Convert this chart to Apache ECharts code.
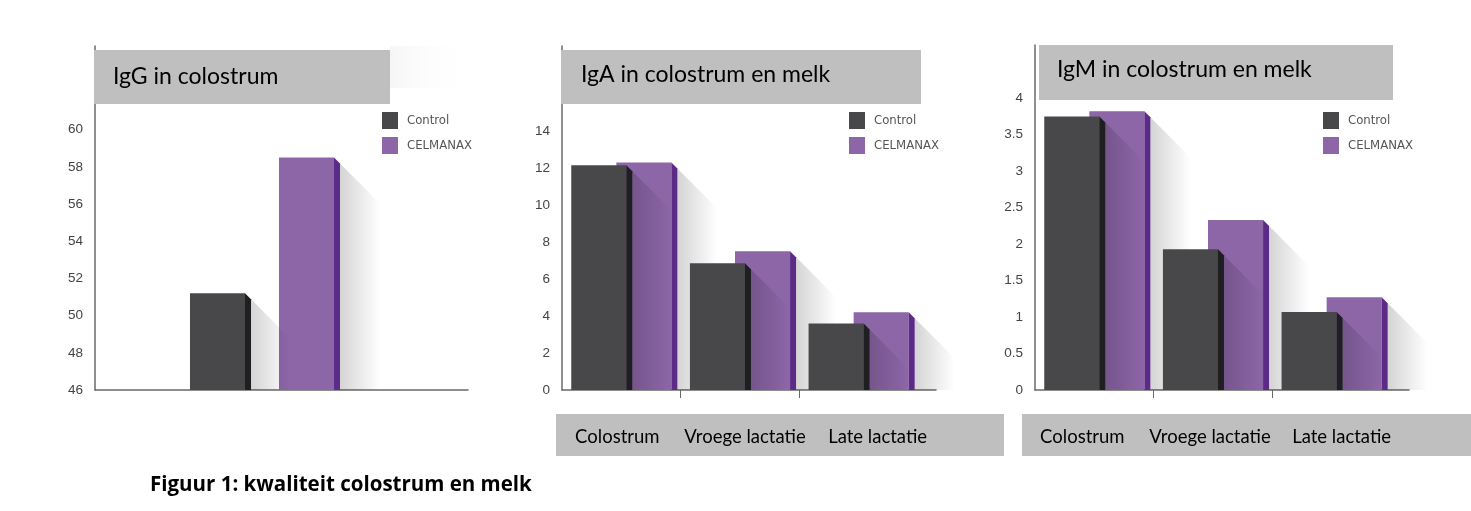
<!DOCTYPE html>
<html>
<head>
<meta charset="utf-8">
<script src="https://cdn.jsdelivr.net/npm/echarts@6/dist/echarts.min.js"></script>
<style>
html,body{margin:0;padding:0;background:#fff;}
#chart{width:1471px;height:511px;}
</style>
</head>
<body>
<div id="chart"></div>
<script>
// ---- data ----
const categories = ['Colostrum', 'Vroege lactatie', 'Late lactatie'];
const seriesNames = ['Control', 'CELMANAX'];
const igGCategories = ['Colostrum'];
const igGControl = [51.2];
const igGCelmanax = [58.5];
const igAControl = [12.15, 6.85, 3.6];
const igACelmanax = [12.3, 7.5, 4.2];
const igMControl = [3.75, 1.93, 1.07];
const igMCelmanax = [3.82, 2.33, 1.27];
const chartTitles = ['IgG in colostrum', 'IgA in colostrum en melk', 'IgM in colostrum en melk'];
const caption = 'Figuur 1: kwaliteit colostrum en melk';
const igGTickMax = 60, igATickMax = 14, igMTickMax = 4;

// ---- style ----
const COLORS = {
  Control: {front: '#48484a', side: '#1f1f21'},
  CELMANAX: {front: '#8d66a8', side: '#5c2b87'}
};
const SIDE = 6, SHADOW = 40;

function makeRender(barFrac, offFrac, colors) {
  return function (params, api) {
    const cat = api.value(0), v = api.value(1);
    const pt = api.coord([cat, v]);
    const cs = params.coordSys;
    const bottom = cs.y + cs.height;
    const band = api.size([1, 0])[0];
    const w = band * barFrac;
    const cx = pt[0] + band * offFrac;
    const x0 = cx - w / 2, x1 = cx + w / 2;
    const yt = pt[1];
    const xs = x1 + SIDE;
    const ys = yt + SIDE;
    const yd = Math.min(ys + SHADOW, bottom);
    const xd = xs + (yd - ys);
    const xe = xs + SHADOW;
    return {
      type: 'group',
      children: [
        {
          type: 'polygon',
          shape: {points: [[xs, ys], [xd, yd], [xe, yd], [xe, bottom], [xs, bottom]]},
          style: {
            fill: {type: 'linear', x: 0, y: 0, x2: 1, y2: 0,
              colorStops: [{offset: 0, color: 'rgba(0,0,0,0.17)'}, {offset: 1, color: 'rgba(0,0,0,0)'}]}
          },
          silent: true
        },
        {
          type: 'rect',
          shape: {x: x0, y: yt, width: w, height: bottom - yt},
          style: {fill: colors.front}
        },
        {
          type: 'polygon',
          shape: {points: [[x1, yt], [xs, ys], [xs, bottom], [x1, bottom]]},
          style: {fill: colors.side}
        }
      ]
    };
  };
}

const labelFont = "'Liberation Sans', Arial, sans-serif";
const titleFont = "Lato, 'Open Sans', sans-serif";
const captionFont = "'Open Sans', Lato, sans-serif";
const legendFont = "'DejaVu Sans Condensed', 'Liberation Sans Narrow', 'Liberation Sans', sans-serif";

const grids = [
  {left: 95, top: 46, width: 373, height: 344},
  {left: 562, top: 46, width: 374, height: 344},
  {left: 1035, top: 45, width: 374, height: 345}
];

function yAxis(idx, min, max, interval, tickMax) {
  return {
    type: 'value', gridIndex: idx, min: min, max: max, interval: interval,
    axisLine: {show: true, onZero: false, lineStyle: {color: '#6a6a6a', width: 1.5}},
    axisTick: {show: false},
    splitLine: {show: false},
    axisLabel: {
      margin: 12, color: '#444', fontFamily: labelFont, fontSize: 13.5,
      formatter: function (val) { return val > tickMax + 1e-9 ? '' : String(val); },
      showMaxLabel: false
    }
  };
}

function catXAxis(idx, cats) {
  return {
    type: 'category', gridIndex: idx, data: cats,
    axisLine: {show: true, onZero: false, lineStyle: {color: '#6a6a6a', width: 1.5}},
    axisTick: {show: false},
    axisLabel: {show: false}
  };
}

// value-type x axis with groups at integer positions (so the axis line can run past the last group)
function groupXAxis(idx, cats, labelShiftPx) {
  const unitPx = 356 / 3;
  return {
    type: 'value', gridIndex: idx, min: -0.5, max: 2.652,
    axisLine: {show: true, onZero: false, lineStyle: {color: '#6a6a6a', width: 1.5}},
    splitLine: {show: false},
    axisTick: {show: true, length: 8, lineStyle: {color: '#6a6a6a', width: 1},
      customValues: cats.slice(1).map(function (c, i) { return i + 0.5; })},
    axisLabel: {
      margin: 37, hideOverlap: false, showMinLabel: true, showMaxLabel: true,
      customValues: cats.map(function (c, i) { return i + (labelShiftPx[i] || 0) / unitPx; }),
      formatter: function (v) { const i = Math.round(v); return cats[i] || ''; },
      color: '#000', fontFamily: titleFont, fontSize: 18.5, lineHeight: 20
    }
  };
}

function series(name, gridIdx, data, barFrac, offFrac) {
  return {
    type: 'custom', name: name,
    xAxisIndex: gridIdx, yAxisIndex: gridIdx,
    itemStyle: {color: COLORS[name].front},
    renderItem: makeRender(barFrac, offFrac, COLORS[name]),
    encode: {x: 0, y: 1},
    data: data.map(function (v, i) { return [i, v]; })
  };
}

function legend(left) {
  return {
    left: left, top: 112, orient: 'vertical', padding: 0,
    itemWidth: 16, itemHeight: 17, itemGap: 8, icon: 'rect',
    data: seriesNames,
    textStyle: {fontFamily: legendFont, fontSize: 13, color: '#555', padding: [0, 0, 0, 4]},
    selectedMode: false
  };
}

const titleBoxes = [
  {x: 94, y: 50, w: 296, h: 54},
  {x: 561, y: 50, w: 360, h: 54},
  {x: 1039, y: 45, w: 354, h: 55}
];
const labelBoxes = [
  {x: 556, y: 414, w: 448, h: 42},
  {x: 1022, y: 414, w: 449, h: 42}
];

const graphic = [];
graphic.push({
  type: 'rect', z: 9, silent: true,
  shape: {x: 390, y: 46, width: 85, height: 42},
  style: {fill: {type: 'linear', x: 0, y: 0, x2: 1, y2: 0,
    colorStops: [{offset: 0, color: '#f6f6f6'}, {offset: 1, color: 'rgba(255,255,255,0)'}]}}
});
titleBoxes.forEach(function (b) {
  graphic.push({type: 'rect', z: 10, silent: true, shape: {x: b.x, y: b.y, width: b.w, height: b.h}, style: {fill: '#bfbfbf'}});
});
labelBoxes.forEach(function (b) {
  graphic.push({type: 'rect', z: -1, silent: true, shape: {x: b.x, y: b.y, width: b.w, height: b.h}, style: {fill: '#bfbfbf'}});
});

const titleStyle = {fontFamily: titleFont, fontSize: 23, fontWeight: 'normal', color: '#000', lineHeight: 26};

const option = {
  backgroundColor: '#fff',
  animation: false,
  title: [
    {text: chartTitles[0], left: 113, top: 64, padding: 0, z: 20, textStyle: titleStyle},
    {text: chartTitles[1], left: 581, top: 62, padding: 0, z: 20, textStyle: titleStyle},
    {text: chartTitles[2], left: 1057, top: 57, padding: 0, z: 20, textStyle: titleStyle},
    {text: caption, left: 150, top: 472, padding: 0, z: 20,
      textStyle: {fontFamily: captionFont, fontSize: 20.5, fontWeight: 'bold', color: '#000', lineHeight: 26}}
  ],
  legend: [legend(382), legend(849), legend(1323)],
  grid: grids,
  xAxis: [
    catXAxis(0, igGCategories),
    groupXAxis(1, categories, [-4, 5, 19]),
    groupXAxis(2, categories, [-12, -3, 10])
  ],
  yAxis: [
    yAxis(0, 46, 64.5, 2, igGTickMax),
    yAxis(1, 0, 18.6, 2, igATickMax),
    yAxis(2, 0, 4.73, 0.5, igMTickMax)
  ],
  graphic: graphic,
  series: [
    series('CELMANAX', 0, igGCelmanax, 0.1475, 0.067),
    series('Control', 0, igGControl, 0.1475, -0.1716),
    series('CELMANAX', 1, igACelmanax, 0.464, 0.19),
    series('Control', 1, igAControl, 0.464, -0.19),
    series('CELMANAX', 2, igMCelmanax, 0.464, 0.19),
    series('Control', 2, igMControl, 0.464, -0.19)
  ]
};

const chart = echarts.init(document.getElementById('chart'), null, {renderer: 'canvas'});
chart.setOption(option);
</script>
</body>
</html>
